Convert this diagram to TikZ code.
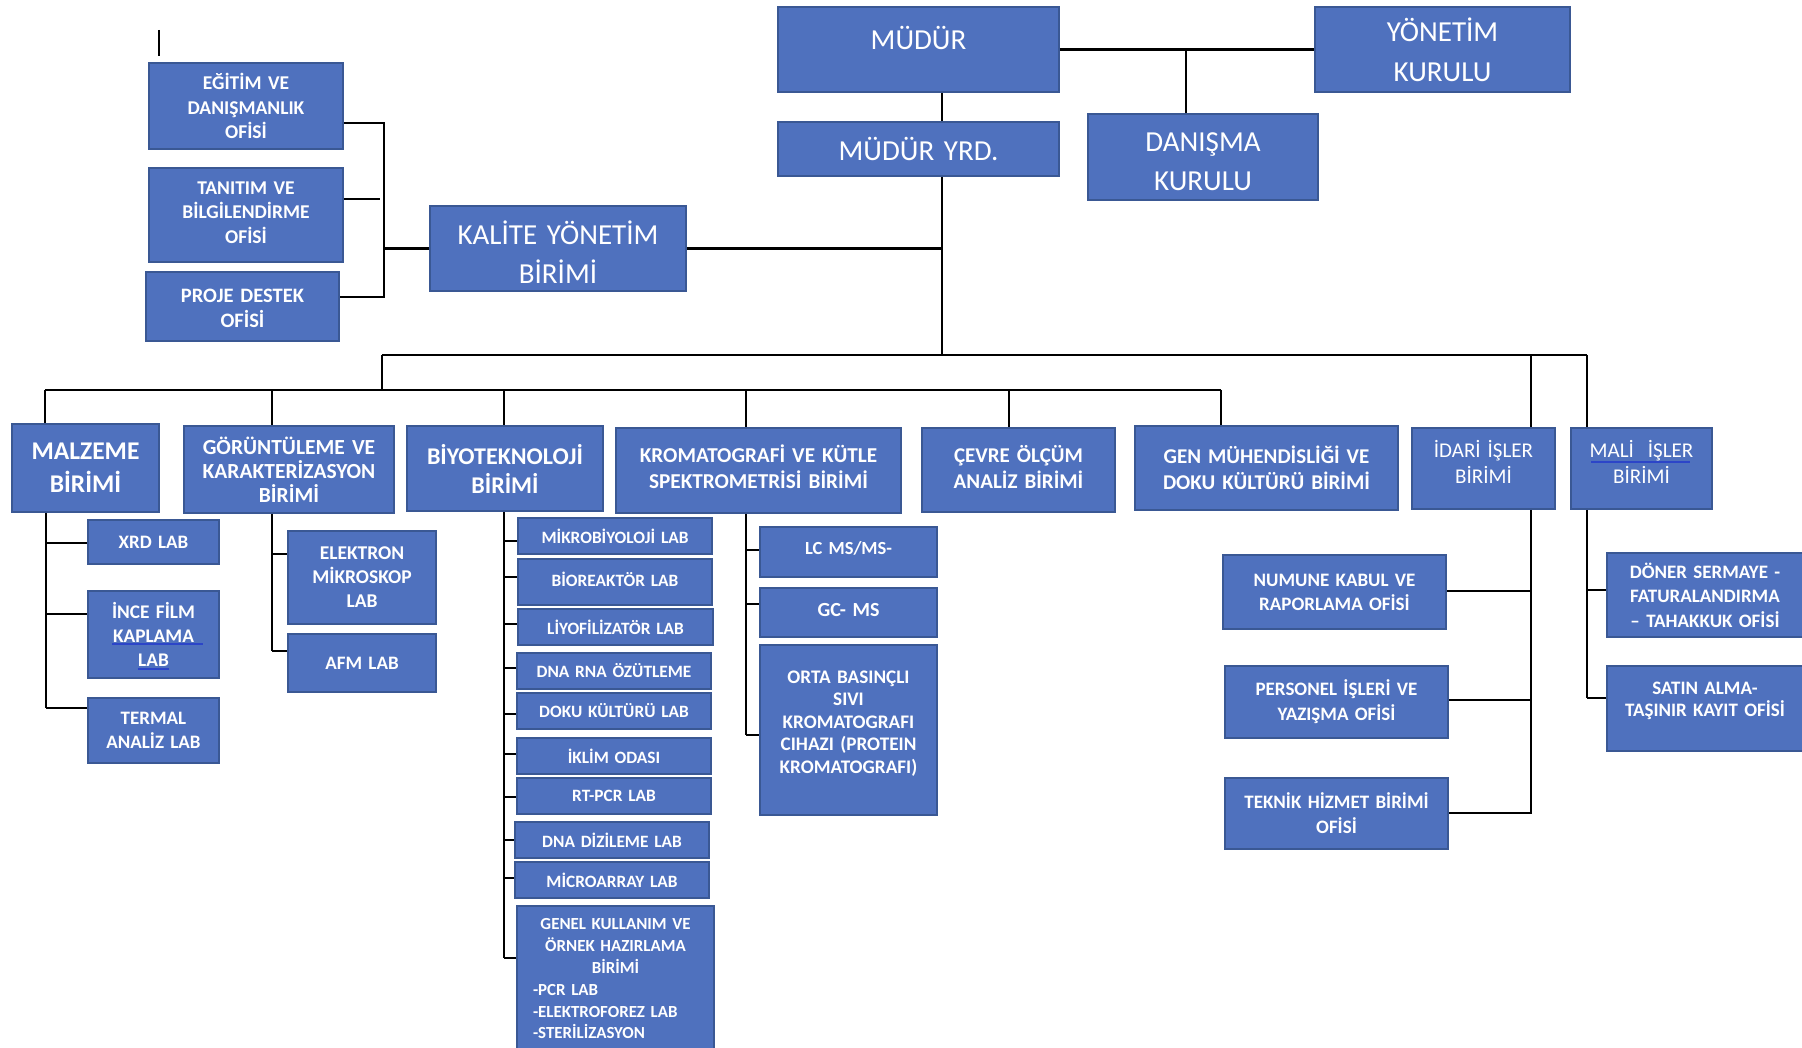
\documentclass[tikz,border=0pt]{standalone}
\usepackage{fontspec}
\setmainfont{Carlito}
\definecolor{boxblue}{HTML}{4F71BE}
\definecolor{boxedge}{HTML}{3A5894}
\definecolor{squiggle}{HTML}{2C45C8}
\newcommand\fntR[2]{\fontsize{#1}{#2}\selectfont}
\newcommand\fntB[2]{\bfseries\fontsize{#1}{#2}\selectfont}
% shift text up (suffix)
\newcommand\upb[1]{\par\vspace*{#1}}
\tikzset{
  box/.style={draw=boxedge, fill=boxblue, line width=1.6pt, text=white, align=center, inner sep=0pt},
  boxtext/.style={text=white, align=center, inner sep=0pt},
  conn/.style={line width=2.8pt, black},
  bus/.style={line width=2.4pt, black},
}
% name, x1, y1, x2, y2, font, text
\newcommand\bx[7]{%
  \pgfmathsetmacro\bxw{#4-#2}%
  \pgfmathsetmacro\bxh{#5-#3}%
  \pgfmathsetmacro\bxt{#4-#2-10}%
  \node[box, minimum width=\bxw pt, minimum height=\bxh pt, text width=\bxt pt, font={#6}] (#1) at ({(#2+#4)/2},{(#3+#5)/2}) {#7};}
% same, with the text moved down by #7 pt
\newcommand\bxs[8]{%
  \pgfmathsetmacro\bxw{#4-#2}%
  \pgfmathsetmacro\bxh{#5-#3}%
  \pgfmathsetmacro\bxt{#4-#2-10}%
  \node[box, minimum width=\bxw pt, minimum height=\bxh pt] (#1) at ({(#2+#4)/2},{(#3+#5)/2}) {};
  \node[boxtext, text width=\bxt pt, font={#6}] (#1-t) at ([yshift=-#7pt]#1.center) {#8};}
\newcommand\brW[3]{\coordinate (tmp) at (#2,#3); \draw[conn] (tmp) -- (#1.west |- tmp);}
\newcommand\brE[3]{\coordinate (tmp) at (#2,#3); \draw[conn] (tmp) -- (#1.east |- tmp);}
\begin{document}
\begin{tikzpicture}[x=1pt,y=-1pt]
\useasboundingbox (0,0) rectangle (1802,1048);
\fill[white] (0,0) rectangle (1802,1048);

% top level
\bx{mudur}{778}{7}{1059}{92}{\fntR{29}{38}}{\raisebox{23pt}{MÜDÜR}}
\bx{yrd}{778}{122}{1059}{176}{\fntR{29}{38}}{MÜDÜR YRD.}
\bx{yonetim}{1315}{7}{1570}{92}{\fntR{29}{40}}{YÖNETİM\\KURULU}
\bxs{danisma}{1088}{114}{1318}{200}{\fntR{29}{39}}{4.6}{DANIŞMA\\KURULU}
\bxs{kalite}{430}{206}{686}{291}{\fntR{29}{39}}{3.5}{KALİTE YÖNETİM\\BİRİMİ}

% quality offices
\bx{egitim}{149}{63}{343}{149}{\fntB{19.5}{24.5}}{EĞİTİM VE\\DANIŞMANLIK\\OFİSİ}
\bx{tanitim}{149}{168}{343}{262}{\fntB{19.5}{24.5}}{TANITIM VE\\BİLGİLENDİRME\\OFİSİ\upb{5pt}}
\bxs{proje}{146}{272}{339}{341}{\fntB{20.5}{25.5}}{1.8}{PROJE DESTEK\\OFİSİ}

% units
\bx{malzeme}{12}{424}{159}{512}{\fntB{25.5}{33}}{MALZEME\\BİRİMİ}
\bx{goruntu}{184}{426}{394}{513}{\fntB{21.5}{24}}{GÖRÜNTÜLEME VE\\KARAKTERİZASYON\\BİRİMİ}
\bx{biyo}{407}{426}{603}{511}{\fntB{24}{29}}{BİYOTEKNOLOJİ\\BİRİMİ}
\bx{kroma}{616}{428}{901}{513}{\fntB{21.2}{26}}{KROMATOGRAFİ VE KÜTLE\\SPEKTROMETRİSİ BİRİMİ\upb{7pt}}
\bx{cevre}{922}{428}{1115}{512}{\fntB{21}{25.5}}{ÇEVRE ÖLÇÜM\\ANALİZ BİRİMİ\upb{6pt}}
\bx{gen}{1135}{426}{1398}{510}{\fntB{21}{26}}{GEN MÜHENDİSLİĞİ VE\\DOKU KÜLTÜRÜ BİRİMİ}
\bx{idari}{1412}{428}{1555}{509}{\fntR{21}{26}}{İDARİ İŞLER\\BİRİMİ\upb{14pt}}
\bx{mali}{1571}{428}{1712}{509}{\fntR{21}{26}}{MALİ\ \ İŞLER\\BİRİMİ\upb{14pt}}

% malzeme labs
\bx{xrd}{88}{520}{219}{564}{\fntB{19}{23}}{XRD LAB}
\bx{ince}{88}{591}{219}{678}{\fntB{19.3}{24}}{İNCE FİLM\\KAPLAMA\\LAB}
\bx{termal}{88}{698}{219}{763}{\fntB{19}{24}}{TERMAL\\ANALİZ LAB}

% goruntuleme labs
\bx{elektron}{288}{531}{436}{624}{\fntB{19.5}{24}}{ELEKTRON\\MİKROSKOP\\LAB}
\bx{afm}{288}{634}{436}{692}{\fntB{19}{24}}{AFM LAB}

% biyoteknoloji labs
\bx{mikro}{518}{518}{712}{554}{\fntB{17.3}{20}}{MİKROBİYOLOJİ LAB}
\bx{biore}{518}{559}{712}{605}{\fntB{17.3}{20}}{\raisebox{6pt}{BİOREAKTÖR LAB}}
\bx{liyo}{518}{609}{713}{645}{\fntB{17.3}{20}}{LİYOFİLİZATÖR LAB}
\bx{dnarna}{517}{653}{711}{689}{\fntB{17.3}{20}}{DNA RNA ÖZÜTLEME}
\bx{doku}{517}{693}{711}{729}{\fntB{17.3}{20}}{DOKU KÜLTÜRÜ LAB}
\bx{iklim}{517}{738}{711}{774}{\fntB{17.3}{20}}{İKLİM ODASI}
\bx{rtpcr}{517}{778}{711}{814}{\fntB{17.3}{20}}{RT-PCR LAB}
\bx{dnadiz}{515}{822}{709}{858}{\fntB{17.3}{20}}{DNA DİZİLEME LAB}
\bx{micro}{515}{862}{709}{898}{\fntB{17.3}{20}}{MİCROARRAY LAB}
\bx{genel}{517}{906}{714}{1052}{\fntB{16.9}{21.8}}{GENEL KULLANIM VE\\ÖRNEK HAZIRLAMA\\BİRİMİ\\
  \makebox[\linewidth][l]{\hspace{11pt}-PCR LAB}\\
  \makebox[\linewidth][l]{\hspace{11pt}-ELEKTROFOREZ LAB}\\
  \makebox[\linewidth][l]{\hspace{11pt}-STERİLİZASYON}}

% kromatografi devices
\bx{lcms}{760}{527}{937}{577}{\fntB{18.5}{23}}{\raisebox{8pt}{LC MS/MS-}}
\bx{gcms}{760}{588}{937}{637}{\fntB{20}{24}}{\raisebox{6pt}{GC- MS}}
\bx{orta}{760}{645}{937}{815}{\fntB{19.2}{22.5}}{ORTA BASINÇLI\\SIVI\\KROMATOGRAFI\\CIHAZI (PROTEIN\\KROMATOGRAFI)\\[-6pt]\mbox{}}

% idari offices
\bx{numune}{1223}{555}{1446}{629}{\fntB{19}{24}}{NUMUNE KABUL VE\\RAPORLAMA OFİSİ}
\bx{personel}{1225}{666}{1448}{738}{\fntB{19}{25}}{PERSONEL İŞLERİ VE\\YAZIŞMA OFİSİ}
\bx{teknik}{1225}{778}{1448}{849}{\fntB{19}{25}}{TEKNİK HİZMET BİRİMİ\\OFİSİ}

% mali offices
\bx{doner}{1607}{553}{1803}{637}{\fntB{19}{24.5}}{DÖNER SERMAYE -\\FATURALANDIRMA\\– TAHAKKUK OFİSİ}
\bx{satin}{1607}{666}{1803}{751}{\fntB{19}{22}}{SATIN ALMA-\\TAŞINIR KAYIT OFİSİ\\[-4pt]\mbox{}}

% spell-check underlines
\draw[squiggle, line width=1.2pt] (112,644) -- (203,644);
\draw[squiggle, line width=1.2pt] (138,669) -- (169,669);
\draw[squiggle, line width=1.4pt] (1591,462) -- (1690,462);

% stray mark
\coordinate (s1) at (159,30);
\coordinate (s2) at (159,56);
\draw[line width=1.6pt] (s1) -- (s2);

% top connectors
\draw[conn] (mudur.east) -- (yonetim.west);
\coordinate (dtop) at (1186,49.5);
\draw[conn] (danisma.north -| dtop) -- (dtop);
\coordinate (spine) at (942,355);
\draw[conn] (mudur.south -| spine) -- (yrd.north -| spine);
\draw[conn] (yrd.south -| spine) -- (spine);
\draw[conn] (kalite.east) -- (kalite.east -| spine);

% quality bracket
\coordinate (bA) at (384,123);
\coordinate (bB) at (384,297);
\coordinate (bT) at (380,199);
\draw[conn] (egitim.east |- bA) -- (bA) -- (bB) -- (proje.east |- bB);
\draw[conn] (tanitim.east |- bT) -- (bT);
\draw[conn] (kalite.west) -- (kalite.west -| bA);

% buses
\coordinate (bL) at (382,355);
\coordinate (bR) at (1587,355);
\coordinate (iT) at (1531,355);
\draw[bus] (bL) -- (bR);
\draw[conn] (bR) -- (mali.north -| bR);
\draw[conn] (iT) -- (idari.north -| iT);
\coordinate (lb) at (382,390);
\draw[conn] (bL) -- (lb);
\coordinate (l1) at (45,390);
\coordinate (l2) at (272,390);
\coordinate (l3) at (504,390);
\coordinate (l4) at (746,390);
\coordinate (l5) at (1009,390);
\coordinate (l6) at (1221,390);
\draw[bus] (l1) -- (l6);
\draw[conn] (l1) -- (malzeme.north -| l1);
\draw[conn] (l2) -- (goruntu.north -| l2);
\draw[conn] (l3) -- (biyo.north -| l3);
\draw[conn] (l4) -- (kroma.north -| l4);
\draw[conn] (l5) -- (cevre.north -| l5);
\draw[conn] (l6) -- (gen.north -| l6);

% malzeme branch
\coordinate (mzB) at (46,708);
\draw[conn] (malzeme.south -| mzB) -- (mzB);
\brW{xrd}{46}{543}
\brW{ince}{46}{614}
\brW{termal}{46}{708}

% goruntuleme branch
\coordinate (gB) at (272,651);
\draw[conn] (goruntu.south -| gB) -- (gB);
\brW{elektron}{272}{554}
\brW{afm}{272}{651}

% biyo branch
\coordinate (yB) at (504,958);
\draw[conn] (biyo.south -| yB) -- (yB);
\brW{mikro}{504}{541}
\brW{biore}{504}{577}
\brW{liyo}{504}{624}
\brW{dnarna}{504}{668}
\brW{doku}{504}{714}
\brW{iklim}{504}{754}
\brW{rtpcr}{504}{797}
\brW{dnadiz}{504}{840}
\brW{micro}{504}{878}
\brW{genel}{504}{958}

% kromatografi branch
\coordinate (kB) at (746,735);
\draw[conn] (kroma.south -| kB) -- (kB);
\brW{lcms}{746}{550}
\brW{gcms}{746}{604}
\brW{orta}{746}{735}

% idari branch
\coordinate (iB) at (1531,814);
\draw[conn] (idari.south -| iB) -- (iB);
\brE{numune}{1531}{591}
\brE{personel}{1531}{700}
\brE{teknik}{1531}{813}

% mali branch
\coordinate (mB) at (1587,698);
\draw[conn] (mali.south -| mB) -- (mB);
\brW{doner}{1587}{590}
\brW{satin}{1587}{698}
\end{tikzpicture}
\end{document}
